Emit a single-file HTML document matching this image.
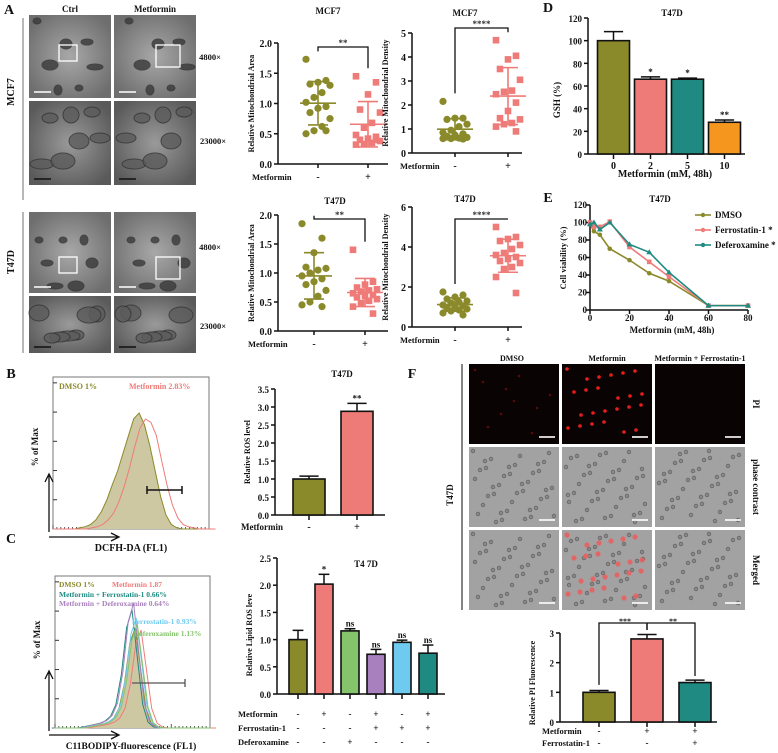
<!DOCTYPE html>
<html><head><meta charset="utf-8"><style>
html,body{margin:0;padding:0;background:#fff;}
svg{display:block;font-family:"Liberation Serif",serif;font-weight:bold;}
</style></head><body>
<svg id="fig" width="778" height="753" viewBox="0 0 778 753" xmlns="http://www.w3.org/2000/svg">
<defs>
<radialGradient id="emg" cx="50%" cy="50%" r="60%"><stop offset="0" stop-color="#a8a8a8"/><stop offset="1" stop-color="#6e6e6e"/></radialGradient>
<radialGradient id="emg2" cx="50%" cy="50%" r="60%"><stop offset="0" stop-color="#9a9a9a"/><stop offset="1" stop-color="#5a5a5a"/></radialGradient>
</defs>
</svg>
<script>
// ---------- data ----------
const mcf7AreaCtrl=[1.73,1.38,1.35,1.32,1.30,1.18,1.10,1.02,0.95,0.92,0.85,0.75,0.62,0.55,0.50,0.55];
const mcf7AreaMet=[1.45,1.35,1.15,0.90,0.85,0.68,0.60,0.48,0.45,0.42,0.40,0.38,0.35,0.33,0.32,0.40];
const mcf7DensCtrl=[2.15,1.45,1.45,1.40,1.20,1.10,0.95,0.85,0.80,0.75,0.70,0.65,0.62,0.60,0.60,0.58];
const mcf7DensMet=[4.70,4.05,3.90,3.50,3.05,2.60,2.55,2.45,2.10,1.75,1.45,1.40,1.25,1.20,1.10,0.90];
const t47dAreaCtrl=[1.85,1.60,1.35,1.10,1.08,1.05,1.00,0.95,0.90,0.85,0.80,0.70,0.60,0.50,0.45,0.42];
const t47dAreaMet=[1.40,0.85,0.80,0.75,0.72,0.70,0.68,0.65,0.62,0.60,0.58,0.55,0.52,0.48,0.42,0.30];
const t47dDensCtrl=[1.75,1.60,1.50,1.40,1.30,1.25,1.20,1.10,1.05,1.00,0.95,0.90,0.85,0.80,0.70,0.60];
const t47dDensMet=[5.00,4.50,4.40,4.30,4.10,3.90,3.70,3.60,3.50,3.40,3.30,3.20,3.00,2.90,2.50,1.70];
const gshCats=['0','2','5','10'];
const gshVals=[100,66,66,28];
const gshErr=[8,2,1,2];
const gshSig=['','*','*','**'];
const rosVals=[1.0,2.88];
const rosErr=[0.08,0.22];
const lipidVals=[1.0,2.02,1.16,0.73,0.95,0.75];
const lipidErr=[0.17,0.18,0.04,0.09,0.04,0.15];
const lipidSig=['','*','ns','ns','ns','ns'];
const lipidMet=['-','+','-','+','-','+'];
const lipidFer=['-','-','-','+','+','+'];
const lipidDef=['-','-','+','-','-','-'];
const piVals=[1.0,2.8,1.33];
const piErr=[0.06,0.15,0.08];
const doses=[0,2,5,10,20,30,40,60,80];
const vDMSO=[98,90,86,70,57,42,33,5,5];
const vFerro=[100,95,95,101,72,55,38,5,5];
const vDefer=[98,100,92,100,75,66,43,5,5];
const histDMSO=[0,0,0,0,0,0.01,0.02,0.04,0.08,0.15,0.25,0.38,0.5,0.65,0.8,0.95,1.0,0.9,0.72,0.5,0.28,0.12,0.04,0.01,0,0,0,0,0,0];
const histMet=[0,0,0,0,0,0,0.01,0.02,0.04,0.08,0.14,0.24,0.38,0.55,0.75,0.92,1.0,0.97,0.85,0.62,0.4,0.22,0.1,0.04,0.02,0.01,0,0,0,0];

const OL='#8b8a2b',SA='#ef7b78',TE='#1e8a82',OR='#f5961f',GR='#86c46c',PU='#a880bd',SK='#6fcaef';
const NS='http://www.w3.org/2000/svg';
const svg=document.getElementById('fig');
function mk(tag,attrs,name,parent){
  const el=document.createElementNS(NS,tag);
  for(const k in attrs) el.setAttribute(k,attrs[k]);
  
  
  (parent||svg).appendChild(el);return el;
}
function T(x,y,s,size,name,opt){
  opt=opt||{};
  const a={x:x,y:y,'font-size':size,fill:opt.fill||'#111','text-anchor':opt.anchor||'middle'};
  if(opt.rot!==undefined) a.transform='rotate('+opt.rot+' '+x+' '+y+')';
  const el=mk('text',a,name,opt.parent);el.textContent=s;return el;
}
function L(x1,y1,x2,y2,name,c,w){return mk('line',{x1:x1,y1:y1,x2:x2,y2:y2,stroke:c||'#111','stroke-width':w||1.5},name);}

// ---------- panel labels ----------
T(9,14,'A',14,'panel-label-a');T(11,378,'B',14,'panel-label-b');T(11,543,'C',14,'panel-label-c');
T(548,12,'D',14,'panel-label-d');T(548,202,'E',14,'panel-label-e');T(412,378,'F',14,'panel-label-f');

// ---------- panel A EM images ----------
T(70,12,'Ctrl',9,'col-title-ctrl');T(155,12,'Metformin',9,'col-title-metformin');
T(14,92,'MCF7',10,'row-label-mcf7',{rot:-90});T(14,262,'T47D',10,'row-label-t47d',{rot:-90});
L(23,18,23,200,'row-bracket-mcf7','#888',1.2);L(23,212,23,353,'row-bracket-t47d','#888',1.2);
const emRows=[[15,98,1],[101,185,0],[212,293,1],[296,353,0]];
const emCols=[29,114];
emRows.forEach((r,ri)=>{emCols.forEach((cx,ci)=>{
  const g=mk('g',{},'em-image-r'+ri+'-c'+ci);
  mk('rect',{x:cx,y:r[0],width:82,height:r[1]-r[0],fill:r[2]?'url(#emg)':'url(#emg2)'},'em-background',g);
  for(let k=0;k<7;k++){
    const ex=cx+8+((k*29+ri*13+ci*7)%66),ey=r[0]+6+((k*23+ri*11)%Math.max(10,r[1]-r[0]-12));
    mk('ellipse',{cx:ex,cy:ey,rx:r[2]?4+(k%3)*2:8+(k%3)*2,ry:r[2]?3+(k%2)*2:5+(k%2)*3,fill:r[2]?'#3a3a3a':'#5c5c5c',stroke:'#333','stroke-width':1,opacity:0.8},'em-structure',g);
  }
  if(r[2]){mk('rect',{x:cx+(ci?42:30),y:r[0]+(ri?45:30),width:ci?24:18,height:ci?22:16,fill:'none',stroke:'#fff','stroke-width':1.3},'em-zoom-box',g);}
  mk('line',{x1:cx+5,y1:r[1]-6,x2:cx+22,y2:r[1]-6,stroke:r[2]?'#fff':'#111','stroke-width':1.5},'scale-bar',g);
});});
T(210,60,'4800×',8.5,'mag-4800-mcf7');T(213,144,'23000×',8.5,'mag-23000-mcf7');
T(210,250,'4800×',8.5,'mag-4800-t47d');T(213,329,'23000×',8.5,'mag-23000-t47d');

// ---------- scatter plots ----------
function scatter(c,ctrl,met,name){
  const y=v=>c.y0-(v/c.ymax)*(c.y0-c.y1);
  L(c.ax,c.y1,c.ax,c.y0,name+'-y-axis');L(c.ax,c.y0,c.ax+c.w,c.y0,name+'-x-axis');
  c.ticks.forEach(t=>{L(c.ax-4,y(t),c.ax,y(t),name+'-y-tick');T(c.ax-6,y(t)+4,t.toFixed(c.dig),10,name+'-y-tick-label',{anchor:'end'});});
  [c.g1,c.g2].forEach((gx,i)=>{L(gx,c.y0,gx,c.y0+4,name+'-x-tick');T(gx,c.y0+16,i?'+':'-',10,name+'-group-label');});
  T(c.lx,c.y0+16,'Metformin',8.5,name+'-x-label',{anchor:'start'});
  T(c.tx,c.ty,c.title,9,name+'-title');
  T(c.ax-24,(c.y0+c.y1)/2,c.ylab,8,name+'-y-label',{rot:-90});
  [[ctrl,c.g1,OL,0],[met,c.g2,SA,1]].forEach(([d,gx,col,sq])=>{
    d.forEach((v,i)=>{const ox=((i*5)%7-3)*4;
      if(sq) mk('rect',{x:gx+ox-3.3,y:y(v)-3.3,width:6.6,height:6.6,fill:col},name+'-point-met');
      else mk('circle',{cx:gx+ox,cy:y(v),r:3.6,fill:col},name+'-point-ctrl');});
    const m=d.reduce((a,b)=>a+b,0)/d.length;
    const sd=Math.sqrt(d.reduce((a,b)=>a+(b-m)*(b-m),0)/(d.length-1));
    L(gx-18,y(m),gx+18,y(m),name+'-mean-line',col,1.6);
    L(gx,y(m-sd),gx,y(m+sd),name+'-sd-line',col,1.6);
    L(gx-10,y(m+sd),gx+10,y(m+sd),name+'-sd-cap',col,1.6);L(gx-10,y(m-sd),gx+10,y(m-sd),name+'-sd-cap',col,1.6);
  });
  const top=c.y1+(c.bt||4);
  mk('polyline',{points:`${c.g1},${y(Math.max(...ctrl))-8} ${c.g1},${top} ${c.g2},${top} ${c.g2},${y(Math.max(...met))-8}`,fill:'none',stroke:'#111','stroke-width':1.3},name+'-sig-bracket');
  T((c.g1+c.g2)/2,top-1,c.sig,9,name+'-sig-label',{fill:'#333'});
}
scatter({ax:278,y0:164,y1:43,ymax:2,w:110,ticks:[0,0.5,1,1.5,2],dig:1,g1:318,g2:368,title:'MCF7',tx:328,ty:14,lx:252,sig:'**',ylab:'Relative Mitochondrial Area'},mcf7AreaCtrl,mcf7AreaMet,'mcf7-area');
scatter({ax:412,y0:153,y1:33,ymax:5,w:110,ticks:[0,1,2,3,4,5],dig:0,g1:455,g2:508,title:'MCF7',tx:465,ty:16,lx:400,sig:'****',ylab:'Relative Mitochondrial Density',bt:-5},mcf7DensCtrl,mcf7DensMet,'mcf7-density');
scatter({ax:278,y0:331,y1:215,ymax:2,w:110,ticks:[0,0.5,1,1.5,2],dig:1,g1:314,g2:365,title:'T47D',tx:335,ty:204,lx:248,sig:'**',ylab:'Relative Mitochondrial Area'},t47dAreaCtrl,t47dAreaMet,'t47d-area');
scatter({ax:412,y0:327,y1:207,ymax:6,w:110,ticks:[0,2,4,6],dig:0,g1:455,g2:508,title:'T47D',tx:465,ty:202,lx:400,sig:'****',ylab:'Relative Mitochondrial Density',bt:12},t47dDensCtrl,t47dDensMet,'t47d-density');

// ---------- bar chart helper ----------
function bars(c,vals,errs,cols,name){
  const y=v=>c.y0-(v/c.ymax)*(c.y0-c.y1);
  L(c.ax,c.y1,c.ax,c.y0,name+'-y-axis');L(c.ax,c.y0,c.xe,c.y0,name+'-x-axis');
  c.ticks.forEach(t=>{L(c.ax-4,y(t),c.ax,y(t),name+'-y-tick');T(c.ax-6,y(t)+4,t.toFixed(c.dig),c.fs||10,name+'-y-tick-label',{anchor:'end'});});
  vals.forEach((v,i)=>{const cx=c.x0+(i+0.5)*c.step;
    L(cx,y(v),cx,y(v+errs[i]),name+'-error-bar');L(cx-c.bw*0.3,y(v+errs[i]),cx+c.bw*0.3,y(v+errs[i]),name+'-error-cap');
    mk('rect',{x:cx-c.bw/2,y:y(v),width:c.bw,height:c.y0-y(v),fill:cols[i],stroke:'#111','stroke-width':1.6},name+'-bar-'+i);
    L(cx,c.y0,cx,c.y0+5,name+'-x-tick');
    if(c.sig&&c.sig[i]) T(cx,y(v+errs[i])-2,c.sig[i],9,name+'-sig-label');
    if(c.cats) T(cx,c.y0+15,c.cats[i],10,name+'-x-tick-label');
  });
  return y;
}
// D
bars({ax:588,y0:154,y1:18,ymax:120,xe:745,ticks:[0,20,40,60,80,100,120],dig:0,x0:595,step:37,bw:32,sig:gshSig,cats:gshCats,fs:9},gshVals,gshErr,[OL,SA,TE,OR],'gsh');
T(672,16,'T47D',9,'gsh-title');T(665,177,'Metformin (mM, 48h)',10,'gsh-x-label');T(560,100,'GSH (%)',9,'gsh-y-label',{rot:-90});
// B bar
bars({ax:275,y0:515,y1:389,ymax:3.5,xe:385,ticks:[0,0.5,1,1.5,2,2.5,3,3.5],dig:1,x0:285,step:48,bw:32,sig:['','**'],fs:9},rosVals,rosErr,[OL,SA],'ros');
T(342,377,'T47D',9,'ros-title');T(250,452,'Relative  ROS level',8,'ros-y-label',{rot:-90});
T(283,530,'Metformin',9,'ros-x-label',{anchor:'end'});T(309,530,'-',10,'ros-group-ctrl');T(357,530,'+',10,'ros-group-met');
// C bar
bars({ax:277,y0:694,y1:558,ymax:2.5,xe:445,ticks:[0,0.5,1,1.5,2,2.5],dig:1,x0:285,step:26,bw:18,sig:lipidSig,fs:9},lipidVals,lipidErr,[OL,SA,GR,PU,SK,TE],'lipid-ros');
T(366,567,'T4 7D',9,'lipid-ros-title');T(252,635,'Relative Lipid  ROS  leve',8,'lipid-ros-y-label',{rot:-90});
[[lipidMet,'Metformin',717],[lipidFer,'Ferrostatin-1',731],[lipidDef,'Deferoxamine',745]].forEach(([arr,lab,yy])=>{
  T(238,yy,lab,8.5,'lipid-table-label',{anchor:'start'});
  arr.forEach((s,i)=>T(298+i*26,yy,s,9,'lipid-table-cell'));
});
// F bar
const yPI=bars({ax:560,y0:722,y1:633,ymax:3,xe:717,ticks:[0,1,2,3],dig:0,x0:575,step:48,bw:32,fs:9},piVals,piErr,[OL,SA,TE],'pi');
T(535,683,'Relative  PI Fluorescence',8,'pi-y-label',{rot:-90});
mk('polyline',{points:`599,${yPI(1.25)} 599,623 695,623 695,${yPI(1.55)}`,fill:'none',stroke:'#111','stroke-width':1.3},'pi-sig-bracket');
L(647,623,647,630,'pi-sig-mid');T(625,624,'***',8,'pi-sig-label-1');T(673,624,'**',8,'pi-sig-label-2');
T(542,734,'Metformin',8.5,'pi-row-metformin',{anchor:'start'});T(542,746,'Ferrostatin-1',8.5,'pi-row-ferrostatin',{anchor:'start'});
['-','+','+'].forEach((s,i)=>T(599+i*48,734,s,9,'pi-cell-met'));['-','-','+'].forEach((s,i)=>T(599+i*48,746,s,9,'pi-cell-fer'));

// ---------- E line chart ----------
const ex=v=>590+v/80*158, ey=v=>310-v/120*105;
L(590,205,590,310,'viability-y-axis');L(590,310,748,310,'viability-x-axis');
[0,20,40,60,80,100,120].forEach(t=>{L(586,ey(t),590,ey(t),'viability-y-tick');T(587,ey(t)+3,String(t),9,'viability-y-tick-label',{anchor:'end'});});
[0,20,40,60,80].forEach(t=>{L(ex(t),310,ex(t),314,'viability-x-tick');T(ex(t),321,String(t),9,'viability-x-tick-label');});
T(660,202,'T47D',9,'viability-title');T(672,333,'Metformin (mM, 48h)',9,'viability-x-label');T(566,258,'Cell  viability (%)',8.5,'viability-y-label',{rot:-90});
[[vDMSO,OL,'dmso','c'],[vFerro,SA,'ferrostatin','s'],[vDefer,TE,'deferoxamine','t']].forEach(([d,col,nm,sh])=>{
  mk('polyline',{points:d.map((v,i)=>ex(doses[i])+','+ey(v)).join(' '),fill:'none',stroke:col,'stroke-width':1.6},'viability-line-'+nm);
  d.forEach((v,i)=>{const px=ex(doses[i]),py=ey(v);
    if(sh==='c') mk('circle',{cx:px,cy:py,r:2.3,fill:col},'viability-point-'+nm);
    else if(sh==='s') mk('rect',{x:px-2.3,y:py-2.3,width:4.6,height:4.6,fill:col},'viability-point-'+nm);
    else mk('polygon',{points:`${px},${py-3} ${px-3},${py+2} ${px+3},${py+2}`,fill:col},'viability-point-'+nm);
  });
});
[['DMSO',OL,218],['Ferrostatin-1 *',SA,233],['Deferoxamine *',TE,248]].forEach(([s,col,yy])=>{
  L(695,yy-3,711,yy-3,'legend-line',col,1.6);mk('circle',{cx:703,cy:yy-3,r:2.2,fill:col},'legend-marker');
  T(715,yy,s,9,'legend-entry',{anchor:'start'});
});

// ---------- histograms ----------
function hist(bx,by,bw,bh,peak,arr,shift,stroke,fill,name){
  const n=arr.length;const pts=arr.map((v,i)=>[bx+((i+shift)/(n-1))*bw,by+bh-v*peak]);
  let d='M'+bx+','+(by+bh)+' '+pts.map(p=>'L'+p[0].toFixed(1)+','+p[1].toFixed(1)).join(' ')+' L'+(bx+bw)+','+(by+bh);
  mk('path',{d:d,fill:fill,stroke:stroke,'stroke-width':1},name);
}
function box(x,y,w,h,name){
  mk('rect',{x:x,y:y,width:w,height:h,fill:'#fff',stroke:'#777','stroke-width':1},name+'-frame');
  for(let i=1;i<6;i++) L(x,y+h-i*h/5.2,x+4,y+h-i*h/5.2,name+'-tick','#333',1);
  for(let i=0;i<40;i++) L(x+i*w/40,y+h,x+i*w/40,y+h-(i%10===0?4:2),name+'-x-tick','#333',0.8);
}
box(53,377,156,152,'ros-hist');
hist(53,377,156,152,116,histDMSO,0,OL,'#cdc8a2','ros-hist-dmso');
hist(53,377,156,152,110,histMet,1.2,SA,'none','ros-hist-metformin');
L(147,490,182,490,'ros-gate','#111',1.5);L(147,486,147,494,'ros-gate-end');L(182,486,182,494,'ros-gate-end');
T(59,389,'DMSO    1%',8,'ros-hist-legend-dmso',{anchor:'start',fill:OL});T(129,389,'Metformin  2.83%',8,'ros-hist-legend-met',{anchor:'start',fill:SA});
mk('path',{d:'M49,532 L49,475 M45,482 L49,474 L53,482 M49,537 L118,537 M111,533 L119,537 L111,541',fill:'none',stroke:'#111','stroke-width':1.3},'ros-hist-axes-arrows');
T(38,447,'% of  Max',9,'ros-hist-y-label',{rot:-90});T(131,551,'DCFH-DA (FL1)',10,'ros-hist-x-label');

box(55,576,155,152,'lipid-hist');
const narrow=[0,0,0,0,0,0,0.01,0.02,0.03,0.04,0.06,0.1,0.2,0.45,0.85,1.0,0.6,0.2,0.05,0.01,0,0,0,0,0,0,0,0,0,0];
hist(55,576,155,152,100,narrow,0,OL,'#cdc8a2','lipid-hist-dmso');
hist(55,576,155,152,98,narrow,1.1,SA,'none','lipid-hist-metformin');
hist(55,576,155,152,118,narrow,-0.6,TE,'none','lipid-hist-met-ferro');
hist(55,576,155,152,125,narrow,-0.3,PU,'none','lipid-hist-met-defer');
hist(55,576,155,152,110,narrow,0.2,SK,'none','lipid-hist-ferro');
hist(55,576,155,152,104,narrow,0.4,GR,'none','lipid-hist-defer');
L(132,683,185,683,'lipid-gate','#555',1.3);L(185,679,185,687,'lipid-gate-end','#555',1.3);
T(59,587,'DMSO  1%',7.5,'lipid-legend-dmso',{anchor:'start',fill:OL});T(112,587,'Metformin     1.87',7.5,'lipid-legend-met',{anchor:'start',fill:SA});
T(59,597,'Metformin + Ferrostatin-1  0.66%',7.5,'lipid-legend-met-ferro',{anchor:'start',fill:TE});
T(59,606,'Metformin + Deferoxamine 0.64%',7.5,'lipid-legend-met-defer',{anchor:'start',fill:PU});
T(132,624,'Ferrostatin-1  0.93%',7.5,'lipid-legend-ferro',{anchor:'start',fill:SK});
T(134,636,'Deferoxamine 1.13%',7.5,'lipid-legend-defer',{anchor:'start',fill:GR});
mk('path',{d:'M49,731 L49,672 M45,679 L49,671 L53,679 M49,735 L118,735 M111,731 L119,735 L111,739',fill:'none',stroke:'#111','stroke-width':1.3},'lipid-hist-axes-arrows');
T(40,640,'% of  Max',9,'lipid-hist-y-label',{rot:-90});T(131,749,'C11BODIPY-fluorescence (FL1)',9.5,'lipid-hist-x-label');

// ---------- F images ----------
T(512,361,'DMSO',8,'f-col-dmso');T(607,361,'Metformin',8,'f-col-metformin');T(700,361,'Metformin + Ferrostatin-1',8,'f-col-met-ferro');
T(453,495,'T47D',9,'f-row-t47d',{rot:-90});L(462,364,462,610,'f-bracket','#333',1.2);
T(753,404,'PI',9,'f-row-pi',{rot:90});T(753,487,'phase contrast',9,'f-row-phase',{rot:90});T(753,570,'Merged',9,'f-row-merged',{rot:90});
const fCols=[469,562,655],fRows=[364,447,530];
fRows.forEach((ry,ri)=>{fCols.forEach((cx,ci)=>{
  const g=mk('g',{},'f-image-r'+ri+'-c'+ci);
  mk('rect',{x:cx,y:ry,width:90,height:80,fill:ri===0?'#0a0303':'#a2a2a2'},'f-image-bg',g);
  if(ri>0){for(let k=0;k<40;k++){mk('circle',{cx:cx+4+((k*37+ci*11)%82),cy:ry+4+((k*23+ci*5)%72),r:1.8,fill:'#8a8a8a',stroke:'#666','stroke-width':0.8},'cell',g);}}
  if(ci===1&&ri!==1){for(let k=0;k<24;k++){mk('circle',{cx:cx+5+((k*37)%80),cy:ry+5+((k*53)%70),r:ri?2.6:1.8,fill:ri?'#e86060':'#ff2020',opacity:0.9},'pi-positive-cell',g);}}
  if(ri===0&&ci===0){for(let k=0;k<10;k++){mk('circle',{cx:cx+6+((k*31)%80),cy:ry+6+((k*19)%70),r:1.3,fill:'#5a0808'},'dim-cell',g);}}
  mk('line',{x1:cx+70,y1:ry+73,x2:cx+86,y2:ry+73,stroke:'#fff','stroke-width':1.6},'scale-bar',g);
});});
</script>
</body></html>
